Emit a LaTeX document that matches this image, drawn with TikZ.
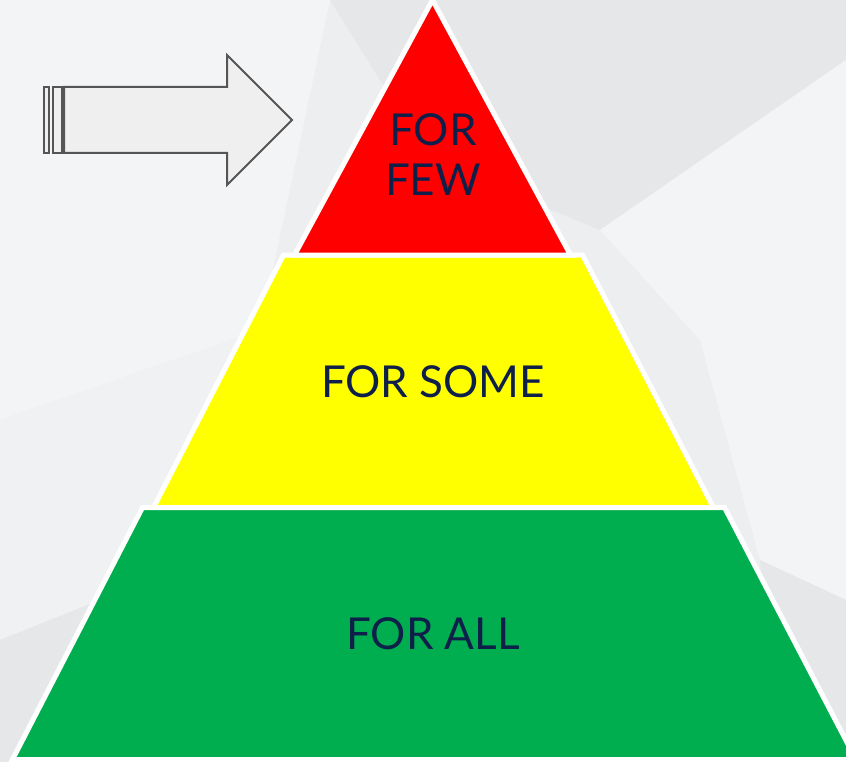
\documentclass[tikz,border=0pt]{standalone}
\usepackage{fontspec}
\setmainfont{Lato}
\definecolor{navy}{HTML}{0E1F4A}
\definecolor{pred}{HTML}{FF0000}
\definecolor{pyel}{HTML}{FFFF00}
\definecolor{pgrn}{HTML}{00AE4F}
\definecolor{bg0}{HTML}{EDEEEF}
\definecolor{bg1}{HTML}{F3F4F5}
\definecolor{bg2}{HTML}{E6E7E9}
\definecolor{arrowfill}{HTML}{EFEFEF}
\definecolor{arrowline}{HTML}{555555}
\tikzset{
  tier/.style={draw=white, line width=5pt, line join=miter},
  tierlabel/.style={text=navy, font=\fontsize{44}{52}\selectfont, align=center, inner sep=0pt},
  arrowpart/.style={draw=arrowline, fill=arrowfill, line width=2pt, line join=miter}
}
\begin{document}
\begin{tikzpicture}[x=1pt,y=-1pt]
\useasboundingbox (0,0) rectangle (846,762);
\begin{scope}
\clip (0,0) rectangle (846,762);
% background facets
\fill[bg0] (0,0) rectangle (846,762);
\fill[bg1] (0,0) -- (330,0) -- (260,330) -- (0,420) -- cycle;
\fill[bg2] (330,0) -- (846,0) -- (846,60) -- (600,230) -- (430,160) -- cycle;
\fill[bg1] (600,230) -- (846,60) -- (846,330) -- (700,340) -- cycle;
\fill[bg1!50!bg0] (0,420) -- (260,330) -- (200,560) -- (0,640) -- cycle;
\fill[bg2] (0,640) -- (200,560) -- (150,762) -- (0,762) -- cycle;
\fill[bg1] (700,340) -- (846,330) -- (846,600) -- (760,560) -- cycle;
\fill[bg2] (760,560) -- (846,600) -- (846,762) -- (780,762) -- cycle;

% pyramid tiers
\path[tier, fill=pyel] (283.5,255) -- (582.5,255) -- (713.5,507.5) -- (153.5,507.5) -- cycle;
\path[tier, fill=pgrn] (142.5,507.5) -- (724.5,507.5) -- (856,759.5) -- (12.5,759.5) -- cycle;
\path[tier, fill=pred] (432.5,0) -- (570.5,255) -- (294.5,255) -- cycle;
\end{scope}

\node[tierlabel] (few) at (433,155) {FOR\\[-2pt]FEW};
\node[tierlabel] (some) at (433,382) {FOR SOME};
\node[tierlabel] (all) at (433,634) {FOR ALL};

% arrow
\path[arrowpart] (44,87) rectangle (49,153);
\path[arrowpart] (53,87) rectangle (62,153);
\path[arrowpart] (64,87) -- (227,87) -- (227,55) -- (292,120) -- (227,185) -- (227,153) -- (64,153) -- cycle;
\end{tikzpicture}
\end{document}
